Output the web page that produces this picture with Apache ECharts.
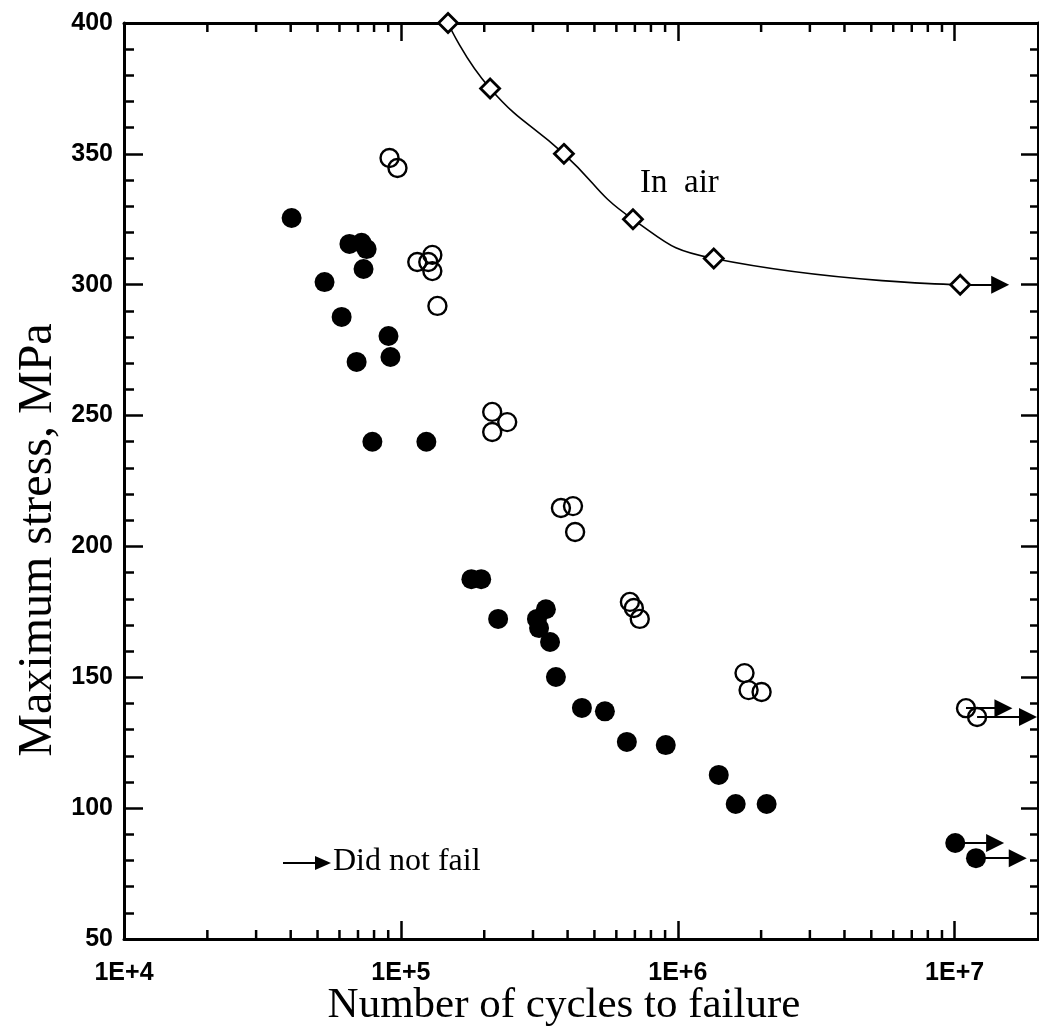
<!DOCTYPE html>
<html><head><meta charset="utf-8">
<script src="https://cdn.jsdelivr.net/npm/echarts@6/dist/echarts.min.js"></script>
<style>html,body{margin:0;padding:0;background:#fff}#c{width:1039px;height:1032px}</style>
</head><body><div id="c"></div>
<script>
// ---- data ----
const xTickLabels = ['1E+4', '1E+5', '1E+6', '1E+7'];
const xMinorTicks = [2e4,3e4,4e4,5e4,6e4,7e4,8e4,9e4, 2e5,3e5,4e5,5e5,6e5,7e5,8e5,9e5, 2e6,3e6,4e6,5e6,6e6,7e6,8e6,9e6];
const yTickValues = [50, 100, 150, 200, 250, 300, 350, 400];

const inAirCycles = [148000, 210000, 388000, 689000, 1349000, 10470000];
const inAirStress = [400, 375, 350, 325, 310, 300];
const inAirArrowEnd = 14600000;

const failedCycles = [40300, 65200, 72100, 75200, 73300, 53000, 61100, 90200, 91700, 69200, 78900, 123600,
  179700, 195000, 224500, 334000, 310000, 315500, 345700, 363000, 450600, 545600, 654800, 905000,
  1406000, 1619000, 2094000];
const failedStress = [325.5, 315.6, 316, 313.6, 306, 301, 287.7, 280.4, 272.4, 270.5, 240, 240,
  187.5, 187.5, 172.3, 176, 172.3, 168.8, 163.5, 150.1, 138.3, 137, 125.3, 124.1,
  112.7, 101.6, 101.6];

const openCycles = [91000, 97200, 114600, 125600, 129900, 129900, 135500, 213700, 242100, 213700,
  378500, 418400, 425800, 671600, 694000, 729000, 1742000, 1802000, 2008000];
const openStress = [348.4, 344.6, 308.7, 308.7, 311.4, 305.2, 291.9, 251.4, 247.5, 243.7,
  214.7, 215.4, 205.5, 178.8, 176.5, 172.3, 151.6, 145.1, 144.4];

const runoutFilledCycles = [10050000, 11940000];
const runoutFilledStress = [86.7, 80.9];
const runoutFilledArrowEnd = [14000000, 16900000];

const runoutOpenCycles = [10990000, 12050000];
const runoutOpenStress = [138.2, 134.8];
const runoutOpenArrowEnd = [15000000, 18400000];

// ---- helpers ----
const pairs = (xs, ys) => xs.map((x, i) => [x, ys[i]]);
const arrowLines = (xs, ys, ends) => xs.map((x, i) => [{coord: [x, ys[i]]}, {coord: [ends[i], ys[i]]}]);
const serif = '"Liberation Serif", "Times New Roman", serif';
const sans = '"Liberation Sans", Arial, sans-serif';
const black = '#000';

const arrowMarkLine = (data) => ({
  silent: true, animation: false,
  symbol: ['none', 'triangle'], symbolSize: 18,
  label: {show: false},
  emphasis: {disabled: true},
  itemStyle: {color: black, opacity: 1},
  lineStyle: {color: black, width: 2, type: 'solid', opacity: 1},
  data: data
});

function xLabel(v) {
  const l = Math.log10(v);
  if (Math.abs(l - Math.round(l)) > 1e-6) return '';
  return xTickLabels[Math.round(l) - 4] || '';
}

const axisLine = {show: true, lineStyle: {color: black, width: 3}};
const chart = echarts.init(document.getElementById('c'), null, {renderer: 'canvas'});
chart.setOption({
  animation: false,
  backgroundColor: '#fff',
  grid: {left: 124, right: 1, top: 23, bottom: 93, containLabel: false},
  xAxis: [
    {type: 'log', logBase: 10, min: 1e4, max: 2e7, position: 'bottom',
     axisLine: axisLine,
     axisTick: {inside: true, length: 18, lineStyle: {color: black, width: 2.5}},
     axisLabel: {color: black, fontFamily: sans, fontSize: 25, fontWeight: 'bold', margin: 22,
                 showMaxLabel: false, formatter: xLabel},
     splitLine: {show: false}},
    {type: 'log', logBase: 10, min: 1e4, max: 2e7, position: 'top',
     axisLine: axisLine,
     axisTick: {inside: true, length: 18, lineStyle: {color: black, width: 2.5}},
     axisLabel: {show: false},
     splitLine: {show: false}}
  ],
  yAxis: [
    {type: 'value', min: yTickValues[0], max: yTickValues[yTickValues.length - 1], interval: 50, position: 'left',
     axisLine: axisLine,
     axisTick: {inside: true, length: 19, lineStyle: {color: black, width: 2.5}},
     minorTick: {show: true, splitNumber: 5, length: 10, lineStyle: {color: black, width: 2.5}},
     axisLabel: {color: black, fontFamily: sans, fontSize: 25, fontWeight: 'bold', margin: 11},
     splitLine: {show: false}, minorSplitLine: {show: false}},
    {type: 'value', min: yTickValues[0], max: yTickValues[yTickValues.length - 1], interval: 50, position: 'right',
     axisLine: axisLine,
     axisTick: {inside: true, length: 17, lineStyle: {color: black, width: 2.5}},
     minorTick: {show: true, splitNumber: 5, length: 8, lineStyle: {color: black, width: 2.5}},
     axisLabel: {show: false},
     splitLine: {show: false}, minorSplitLine: {show: false}}
  ],
  series: [
    { // minor log ticks on bottom & top axes, placed through the x scale
      type: 'custom', xAxisIndex: 0, yAxisIndex: 0, silent: true, clip: false,
      data: xMinorTicks.map(v => [v, yTickValues[0]]),
      renderItem: function (params, api) {
        const v = api.value(0);
        const b = api.coord([v, yTickValues[0]]);
        const t = api.coord([v, yTickValues[yTickValues.length - 1]]);
        const st = {stroke: black, lineWidth: 2.5};
        return {type: 'group', children: [
          {type: 'line', shape: {x1: b[0], y1: b[1], x2: b[0], y2: b[1] - 9}, style: st},
          {type: 'line', shape: {x1: t[0], y1: t[1], x2: t[0], y2: t[1] + 9}, style: st}
        ]};
      }
    },
    {
      name: 'In air', type: 'line', xAxisIndex: 0, yAxisIndex: 0, smooth: 0.5, clip: false,
      data: pairs(inAirCycles, inAirStress),
      symbol: 'diamond', symbolSize: 19, showSymbol: true, z: 5,
      itemStyle: {color: '#fff', borderColor: black, borderWidth: 2.8, opacity: 1},
      lineStyle: {color: black, width: 1.6},
      emphasis: {disabled: true},
      markLine: arrowMarkLine([[{coord: [inAirCycles[5], inAirStress[5]]}, {coord: [inAirArrowEnd, inAirStress[5]]}]])
    },
    {
      name: 'Open', type: 'scatter', xAxisIndex: 0, yAxisIndex: 0, clip: false,
      data: pairs(openCycles, openStress).concat(pairs(runoutOpenCycles, runoutOpenStress)),
      symbol: 'circle', symbolSize: 18,
      itemStyle: {color: 'rgba(255,255,255,0)', borderColor: black, borderWidth: 2.4, opacity: 1},
      emphasis: {disabled: true},
      markLine: arrowMarkLine(arrowLines(runoutOpenCycles, runoutOpenStress, runoutOpenArrowEnd))
    },
    {
      name: 'Filled', type: 'scatter', xAxisIndex: 0, yAxisIndex: 0, clip: false,
      data: pairs(failedCycles, failedStress).concat(pairs(runoutFilledCycles, runoutFilledStress)),
      symbol: 'circle', symbolSize: 20,
      itemStyle: {color: black, opacity: 1},
      emphasis: {disabled: true},
      markLine: arrowMarkLine(arrowLines(runoutFilledCycles, runoutFilledStress, runoutFilledArrowEnd))
    }
  ],
  graphic: [
    {type: 'text', x: 640, y: 183, silent: true,
     style: {text: 'In  air', font: '33px ' + serif, fill: black, align: 'left', verticalAlign: 'middle'}},
    {type: 'line', silent: true, shape: {x1: 283, y1: 863, x2: 320, y2: 863}, style: {stroke: black, lineWidth: 2}},
    {type: 'polygon', silent: true, shape: {points: [[315, 856], [331, 863], [315, 870]]}, style: {fill: black}},
    {type: 'text', x: 333, y: 862, silent: true,
     style: {text: 'Did not fail', font: '32px ' + serif, fill: black, align: 'left', verticalAlign: 'middle'}},
    {type: 'text', x: 564, y: 1006, silent: true,
     style: {text: 'Number of cycles to failure', font: '43px ' + serif, fill: black, align: 'center', verticalAlign: 'middle'}},
    {type: 'text', x: 38, y: 540, rotation: Math.PI / 2, silent: true,
     style: {text: 'Maximum stress, MPa', font: '48px ' + serif, fill: black, align: 'center', verticalAlign: 'middle'}}
  ]
});
</script>
</body></html>
